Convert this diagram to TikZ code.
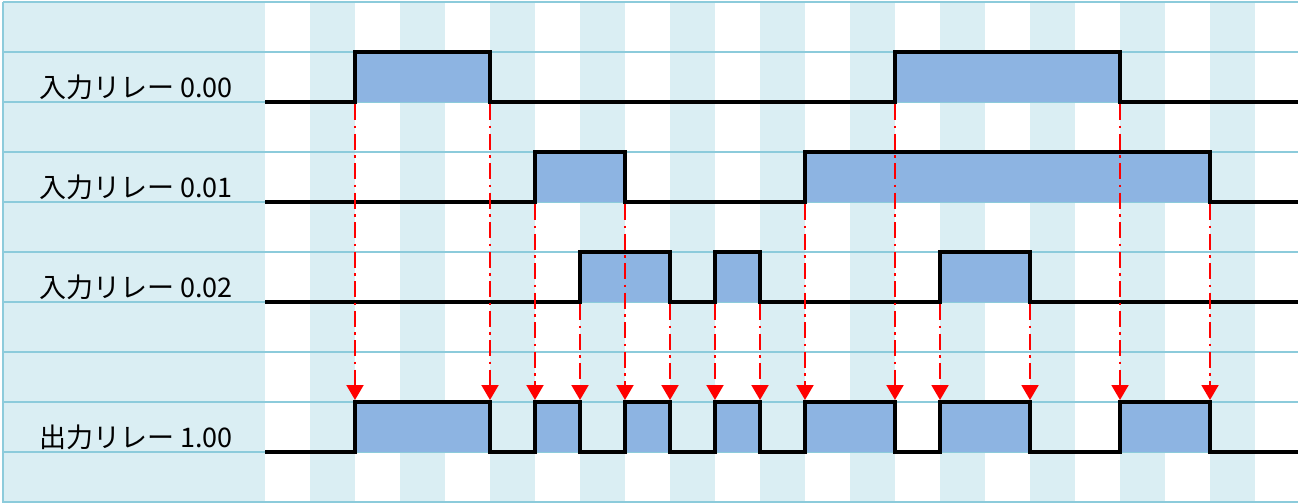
\documentclass[tikz,border=0pt]{standalone}
\usepackage{fontspec}
\newfontfamily\jpfont{Noto Sans CJK JP}
\usepackage{tikz}
\usetikzlibrary{
  positioning,
  calc,
  arrows.meta
}
\definecolor{cellBlue}{HTML}{DAEEF3}
\definecolor{gridBlue}{HTML}{8CCBDB}
\definecolor{pulseBlue}{HTML}{8DB4E2}
\tikzstyle{gridline}=[gridBlue, line width=1.3pt]
\tikzstyle{signal}=[black, line width=3.5pt, line join=miter]
\tikzstyle{pulse}=[fill=pulseBlue]
\tikzstyle{trigger}=[red, line width=2pt, dash pattern=on 16pt off 5.5pt on 2.5pt off 5.5pt, -{Triangle[width=17pt,length=15pt]}]
\tikzstyle{relaylabel}=[anchor=base west, inner sep=0pt, font=\jpfont\fontsize{27}{27}\selectfont]

\begin{document}
\begin{tikzpicture}[x=1pt, y=-1pt]
  \useasboundingbox (0,0) rectangle (1298,503);
  \def\xs{265};   % 信号の始まり
  \def\xe{1298};  % 信号の終わり
  \def\lA{102}; \def\hA{52};    % 0.00
  \def\lB{202}; \def\hB{152};   % 0.01
  \def\lC{302}; \def\hC{252};   % 0.02
  \def\lD{452}; \def\hD{402};   % 1.00

  % 背景の縞
  \fill[cellBlue] (3,2) rectangle (\xs,503);
  \foreach \x in {310,400,...,1210}
    \fill[cellBlue] (\x,2) rectangle ++(45,501);
  \foreach \y in {2,52,...,502}
    \draw[gridline] (3,\y) -- (\xe,\y);
  \draw[gridline] (3,2) -- (3,503);

  % ラベル
  \node (lbA) at (39,97) [relaylabel]{入力リレー 0.00};
  \node (lbB) at (39,197) [relaylabel]{入力リレー 0.01};
  \node (lbC) at (39,297) [relaylabel]{入力リレー 0.02};
  \node (lbD) at (39,447) [relaylabel]{出力リレー 1.00};

  % ONの区間
  \fill[pulse] (355,\hA) rectangle (490,\lA);
  \fill[pulse] (895,\hA) rectangle (1120,\lA);
  \fill[pulse] (535,\hB) rectangle (625,\lB);
  \fill[pulse] (805,\hB) rectangle (1210,\lB);
  \fill[pulse] (580,\hC) rectangle (670,\lC);
  \fill[pulse] (715,\hC) rectangle (760,\lC);
  \fill[pulse] (940,\hC) rectangle (1030,\lC);
  \foreach \a/\b in {355/490,535/580,625/670,715/760,805/895,940/1030,1120/1210}
    \fill[pulse] (\a,\hD) rectangle (\b,\lD);

  % 信号線
  \draw[signal] (\xs,\lA) -- (355,\lA) -- (355,\hA) -- (490,\hA) -- (490,\lA)
    -- (895,\lA) -- (895,\hA) -- (1120,\hA) -- (1120,\lA) -- (\xe,\lA);
  \draw[signal] (\xs,\lB) -- (535,\lB) -- (535,\hB) -- (625,\hB) -- (625,\lB)
    -- (805,\lB) -- (805,\hB) -- (1210,\hB) -- (1210,\lB) -- (\xe,\lB);
  \draw[signal] (\xs,\lC) -- (580,\lC) -- (580,\hC) -- (670,\hC) -- (670,\lC)
    -- (715,\lC) -- (715,\hC) -- (760,\hC) -- (760,\lC)
    -- (940,\lC) -- (940,\hC) -- (1030,\hC) -- (1030,\lC) -- (\xe,\lC);
  \draw[signal] (\xs,\lD) -- (355,\lD) -- (355,\hD) -- (490,\hD) -- (490,\lD)
    -- (535,\lD) -- (535,\hD) -- (580,\hD) -- (580,\lD)
    -- (625,\lD) -- (625,\hD) -- (670,\hD) -- (670,\lD)
    -- (715,\lD) -- (715,\hD) -- (760,\hD) -- (760,\lD)
    -- (805,\lD) -- (805,\hD) -- (895,\hD) -- (895,\lD)
    -- (940,\lD) -- (940,\hD) -- (1030,\hD) -- (1030,\lD)
    -- (1120,\lD) -- (1120,\hD) -- (1210,\hD) -- (1210,\lD) -- (\xe,\lD);

  % 出力の立ち上がり・立ち下がり位置
  \coordinate (out) at (0,400);

  % 入力の変化点
  \coordinate (eA1) at (355,\lA+2);
  \coordinate (eA2) at (490,\lA+2);
  \coordinate (eA3) at (895,\lA+2);
  \coordinate (eA4) at (1120,\lA+2);
  \coordinate (eB1) at (535,\lB+2);
  \coordinate (eB2) at (625,\lB+2);
  \coordinate (eB3) at (805,\lB+2);
  \coordinate (eB4) at (1210,\lB+2);
  \coordinate (eC1) at (580,\lC+2);
  \coordinate (eC2) at (670,\lC+2);
  \coordinate (eC3) at (715,\lC+2);
  \coordinate (eC4) at (760,\lC+2);
  \coordinate (eC5) at (940,\lC+2);
  \coordinate (eC6) at (1030,\lC+2);

  % 変化点から出力への矢印
  \foreach \e in {eA1,eA2,eA3,eA4,eB1,eB2,eB3,eB4,eC1,eC2,eC3,eC4,eC5,eC6}
    \draw[trigger] (\e) -- (\e |- out);
\end{tikzpicture}
\end{document}
